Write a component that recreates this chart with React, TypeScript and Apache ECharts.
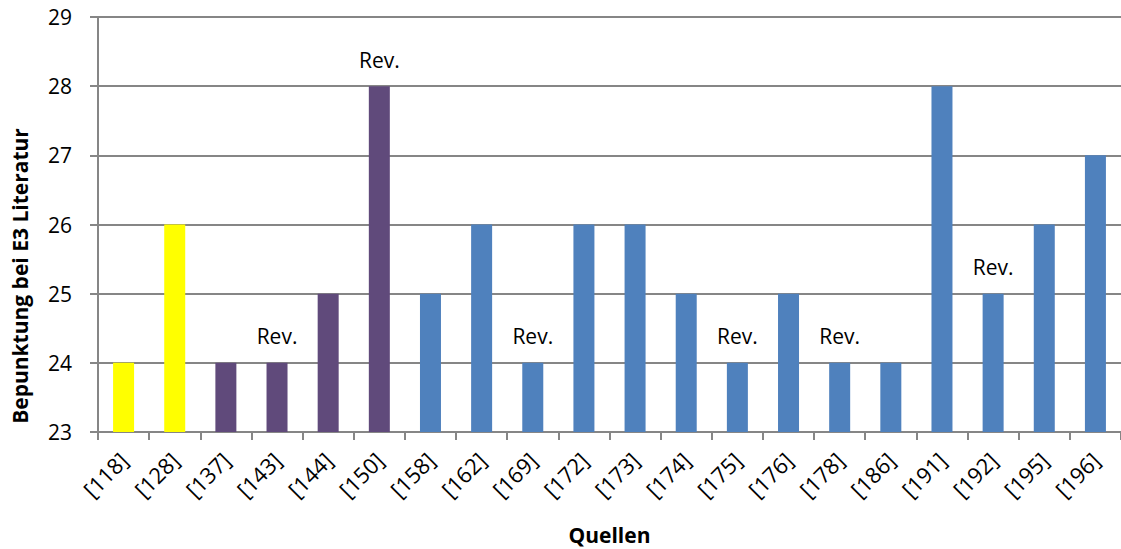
import React, { useEffect, useRef } from "react";
import * as echarts from "echarts";

const categories = ["[118]", "[128]", "[137]", "[143]", "[144]", "[150]", "[158]", "[162]", "[169]", "[172]", "[173]", "[174]", "[175]", "[176]", "[178]", "[186]", "[191]", "[192]", "[195]", "[196]"];
const values = [24, 26, 24, 24, 25, 28, 25, 26, 24, 26, 26, 25, 24, 25, 24, 24, 28, 25, 26, 27];
const groups = ["y", "y", "p", "p", "p", "p", "b", "b", "b", "b", "b", "b", "b", "b", "b", "b", "b", "b", "b", "b"];
const revFlags = [false, false, false, true, false, true, false, false, true, false, false, false, true, false, true, false, false, true, false, false];
const groupColors: Record<string, string> = { y: "#FFFF00", p: "#604A7B", b: "#4F81BD" };
const yTicks = { min: 23, max: 29, interval: 1 };
const yTitle = "Bepunktung bei E3 Literatur";
const xTitle = "Quellen";

const FONT = "'Open Sans', 'DejaVu Sans', sans-serif";

export default function App() {
  const ref = useRef<HTMLDivElement>(null);
  useEffect(() => {
    if (!ref.current) return;
    const chart = echarts.init(ref.current, null, { renderer: "svg" });
    chart.setOption({
      animation: false,
      backgroundColor: "#ffffff",
      grid: { left: 98, right: 0, top: 17, bottom: 117, containLabel: false, outerBoundsMode: "none" },
      graphic: [
        {
          type: "text",
          x: 20,
          y: 276,
          rotation: Math.PI / 2,
          style: {
            text: yTitle,
            fontFamily: FONT,
            fontWeight: "bold",
            fontSize: 21,
            fill: "#000",
            textAlign: "center",
            textVerticalAlign: "middle",
          },
        },
      ],
      xAxis: {
        type: "category",
        data: categories,
        name: xTitle,
        nameLocation: "middle",
        nameGap: 92,
        nameTextStyle: { fontFamily: FONT, fontWeight: "bold", fontSize: 21, color: "#000" },
        axisLine: { lineStyle: { color: "#868686", width: 2 } },
        axisTick: { show: true, length: 8, lineStyle: { color: "#868686", width: 2 } },
        axisLabel: { rotate: 45, fontFamily: FONT, fontSize: 22, color: "#000", margin: 24, interval: 0 },
      },
      yAxis: {
        type: "value",
        min: yTicks.min,
        max: yTicks.max,
        interval: yTicks.interval,
        axisLine: { show: true, lineStyle: { color: "#868686", width: 2 } },
        axisTick: { show: true, length: 8, lineStyle: { color: "#868686", width: 2 } },
        axisLabel: { fontFamily: FONT, fontSize: 21, color: "#000", margin: 26 },
        splitLine: { lineStyle: { color: "#868686", width: 2 } },
      },
      series: [
        {
          type: "bar",
          barWidth: 21,
          data: values.map((v, i) => ({
            value: v,
            itemStyle: { color: groupColors[groups[i]] },
            label: revFlags[i]
              ? { show: true, position: "top", distance: 16, formatter: "Rev.", fontFamily: FONT, fontSize: 21, color: "#000" }
              : { show: false },
          })),
        },
      ],
    });
    return () => chart.dispose();
  }, []);
  return <div ref={ref} style={{ position: "fixed", left: 0, top: 0, width: 1121, height: 549 }} />;
}
